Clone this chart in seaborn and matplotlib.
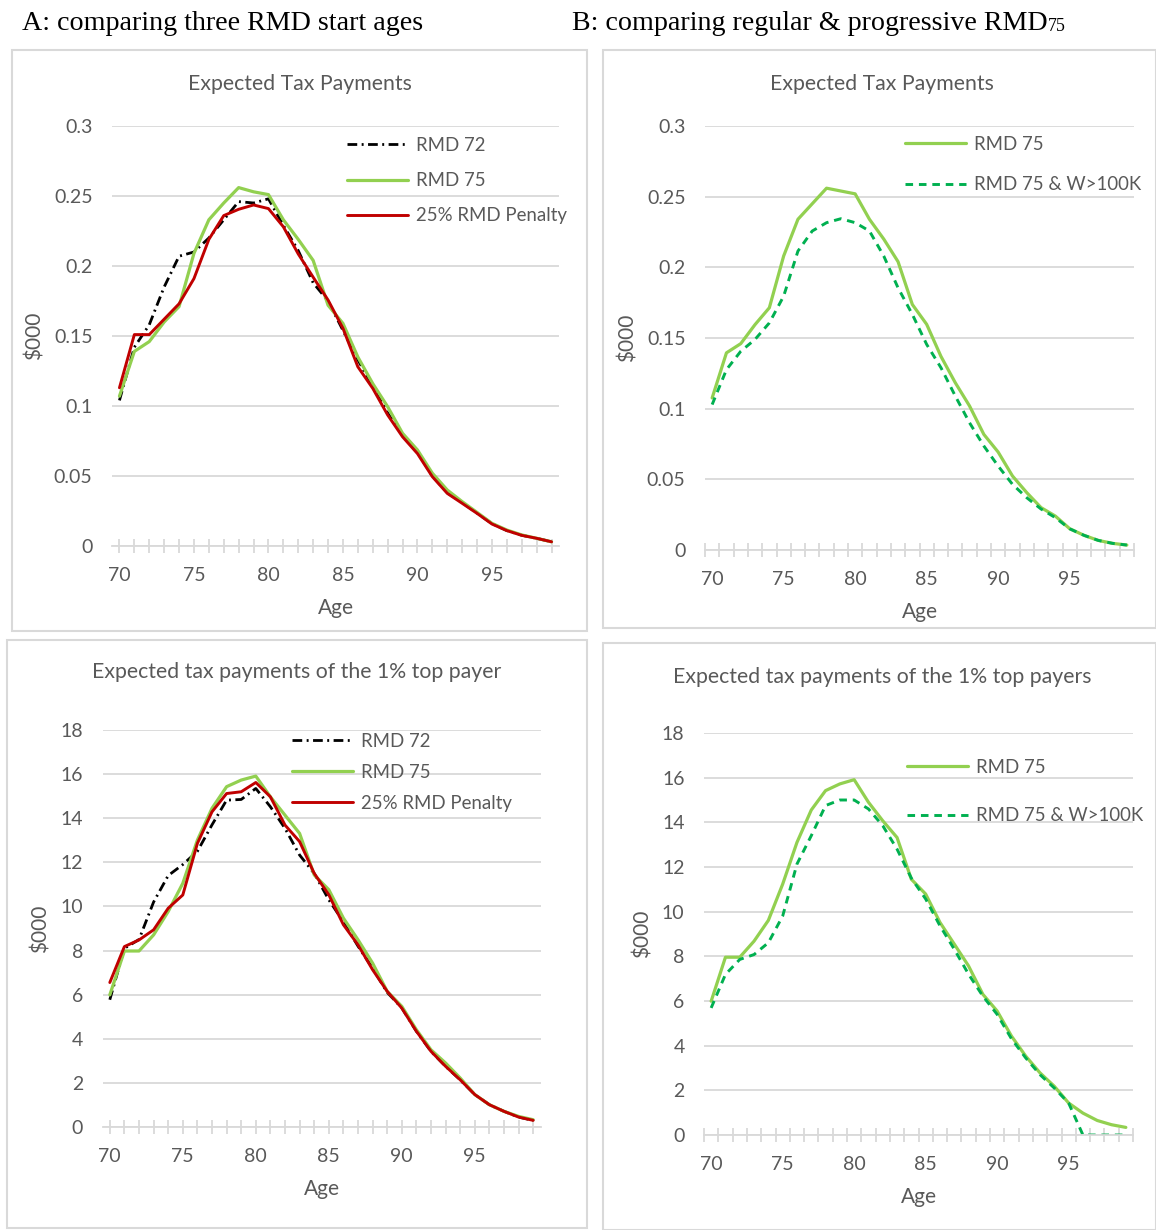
import numpy as np
import pandas as pd
import seaborn as sns
import matplotlib.pyplot as plt
from matplotlib.patches import Rectangle

sns.set_theme(style="white")
plt.rcParams["font.family"] = ["Lato", "DejaVu Sans"]

W, H, DPI = 1156, 1230, 100
GRID = "#D9D9D9"
TXT = "#595959"
GREEN = "#92D050"
DKGREEN = "#00B050"
RED = "#C00000"

ages = list(range(70, 100))
age_ticks = [70, 75, 80, 85, 90, 95]
age_labels = ["70", "75", "80", "85", "90", "95"]

# A, top: expected tax payments ($000)
a_top_rmd72 = [0.104, 0.142, 0.158, 0.185, 0.207, 0.210, 0.220, 0.233, 0.246, 0.245,
               0.248, 0.229, 0.211, 0.188, 0.175, 0.154, 0.133, 0.114, 0.095, 0.079,
               0.067, 0.050, 0.038, 0.031, 0.0235, 0.016, 0.011, 0.0077, 0.0055, 0.003]
a_top_rmd75 = [0.107, 0.139, 0.146, 0.160, 0.171, 0.209, 0.233, 0.245, 0.256, 0.253,
               0.251, 0.233, 0.219, 0.204, 0.172, 0.159, 0.135, 0.116, 0.0995, 0.0805,
               0.0686, 0.052, 0.040, 0.0317, 0.024, 0.0162, 0.0114, 0.0079, 0.0055, 0.003]
a_top_penalty = [0.113, 0.151, 0.151, 0.162, 0.173, 0.191, 0.219, 0.236, 0.2405, 0.2436,
                 0.241, 0.228, 0.2086, 0.192, 0.1757, 0.1555, 0.128, 0.1126, 0.0936, 0.078,
                 0.066, 0.0495, 0.0376, 0.0305, 0.0233, 0.0157, 0.011, 0.0076, 0.0055, 0.003]

# B, top
b_top_rmd75 = [0.1076, 0.1395, 0.146, 0.1595, 0.1714, 0.208, 0.234, 0.245, 0.256, 0.254,
               0.252, 0.234, 0.220, 0.204, 0.1737, 0.1597, 0.137, 0.1184, 0.1019, 0.0818,
               0.0693, 0.0524, 0.0406, 0.030, 0.024, 0.0151, 0.0104, 0.0068, 0.0047, 0.0035]
b_top_w100k = [0.1029, 0.1276, 0.1406, 0.149, 0.1607, 0.1796, 0.2115, 0.2257, 0.2316, 0.2344,
               0.2316, 0.2257, 0.208, 0.1855, 0.1667, 0.1455, 0.129, 0.109, 0.090, 0.0736,
               0.0594, 0.0465, 0.037, 0.029, 0.0229, 0.015, 0.0104, 0.0068, 0.0047, 0.0035]

# A, bottom: 1% top payers
a_bot_rmd72 = [5.77, 8.1, 8.5, 10.2, 11.4, 11.9, 12.5, 13.7, 14.82, 14.85,
               15.35, 14.52, 13.54, 12.33, 11.5, 10.3, 9.3, 8.2, 7.2, 6.1,
               5.4, 4.34, 3.43, 2.75, 2.14, 1.47, 1.01, 0.71, 0.45, 0.3]
a_bot_rmd75 = [5.99, 7.98, 7.98, 8.71, 9.77, 11.05, 13.01, 14.45, 15.43, 15.73,
               15.91, 14.97, 14.14, 13.31, 11.43, 10.76, 9.47, 8.49, 7.43, 6.15,
               5.47, 4.41, 3.5, 2.9, 2.22, 1.47, 1.01, 0.71, 0.48, 0.33]
a_bot_penalty = [6.55, 8.18, 8.48, 8.94, 9.92, 10.52, 12.86, 14.29, 15.12, 15.2,
                 15.62, 14.97, 13.69, 12.94, 11.5, 10.53, 9.17, 8.26, 7.13, 6.15,
                 5.39, 4.34, 3.43, 2.75, 2.14, 1.47, 1.01, 0.71, 0.45, 0.3]

# B, bottom
b_bot_rmd75 = [5.99, 7.96, 7.96, 8.68, 9.61, 11.23, 13.1, 14.55, 15.42, 15.72,
               15.91, 14.9, 14.07, 13.32, 11.45, 10.79, 9.52, 8.55, 7.57, 6.3,
               5.55, 4.43, 3.53, 2.78, 2.18, 1.43, 0.98, 0.65, 0.46, 0.34]
b_bot_w100k = [5.69, 7.19, 7.86, 8.08, 8.61, 9.8, 12.13, 13.4, 14.75, 15.0,
               15.0, 14.6, 13.85, 12.8, 11.5, 10.57, 9.37, 8.32, 7.2, 6.22,
               5.4, 4.31, 3.45, 2.7, 2.1, 1.43, 0, 0, 0, 0]

top_yticks = [0, 0.05, 0.1, 0.15, 0.2, 0.25, 0.3]
top_ylabels = ["0", "0.05", "0.1", "0.15", "0.2", "0.25", "0.3"]
bot_yticks = [0, 2, 4, 6, 8, 10, 12, 14, 16, 18]
bot_ylabels = ["0", "2", "4", "6", "8", "10", "12", "14", "16", "18"]

fig = plt.figure(figsize=(W / DPI, H / DPI), dpi=DPI)


def px_axes(left, top, right, bottom):
    return fig.add_axes([left / W, 1 - bottom / H, (right - left) / W, (bottom - top) / H])


def box(x0, y0, x1, y1):
    fig.patches.append(Rectangle((x0 / W, 1 - y1 / H), (x1 - x0) / W, (y1 - y0) / H,
                                 transform=fig.transFigure, fill=False, ec=GRID, lw=1.5))


def ftext(x, y, s, **kw):
    return fig.text(x / W, 1 - y / H, s, **kw)


def style(ax, yticks, ylabels, ymax, between):
    ax.set_xlim(69.5, 99.5)
    ax.set_ylim(0, ymax)
    for s in ["top", "right", "left"]:
        ax.spines[s].set_visible(False)
    ax.spines["bottom"].set_color(GRID)
    ax.spines["bottom"].set_linewidth(1.3)
    ax.set_yticks(yticks)
    ax.set_yticklabels(ylabels)
    ax.yaxis.grid(True, color=GRID, lw=1.3)
    ax.set_axisbelow(True)
    ax.tick_params(axis="y", length=0, pad=14, labelsize=14, labelcolor=TXT)
    ax.set_xticks(age_ticks)
    ax.set_xticklabels(age_labels)
    # excel style cross ticks, on the ages (A) or between them (B)
    minor = [a + 0.5 for a in range(69, 100)] if between else ages
    ax.xaxis.remove_overlapping_locs = False
    ax.set_xticks(minor, minor=True)
    ax.tick_params(axis="x", which="major", length=0, pad=15, labelsize=14, labelcolor=TXT)
    ax.tick_params(axis="x", which="minor", direction="inout", length=10,
                   width=1.3, color=GRID, bottom=True)
    ax.set_xlabel("Age", fontsize=15, color=TXT, labelpad=10)
    ax.set_ylabel("$000", fontsize=15, color=TXT, labelpad=7)


dashdot = (0, (3.5, 1.6, 0.7, 1.6))
dashed = (0, (2.6, 2.0))

# ---- A top
ax1 = px_axes(112, 126, 559, 546)
sns.lineplot(x=ages, y=a_top_rmd72, ax=ax1, color="black", lw=2, linestyle=dashdot, label="RMD 72")
sns.lineplot(x=ages, y=a_top_rmd75, ax=ax1, color=GREEN, lw=2.3, label="RMD 75")
sns.lineplot(x=ages, y=a_top_penalty, ax=ax1, color=RED, lw=2.1, label="25% RMD Penalty")
style(ax1, top_yticks, top_ylabels, 0.3, False)

# ---- B top
ax2 = px_axes(705, 126, 1134, 550)
sns.lineplot(x=ages, y=b_top_rmd75, ax=ax2, color=GREEN, lw=2.3, label="RMD 75")
sns.lineplot(x=ages, y=b_top_w100k, ax=ax2, color=DKGREEN, lw=2.1, linestyle=dashed, label="RMD 75 & W>100K")
style(ax2, top_yticks, top_ylabels, 0.3, True)

# ---- A bottom
ax3 = px_axes(102.5, 730, 540.5, 1127)
sns.lineplot(x=ages, y=a_bot_rmd72, ax=ax3, color="black", lw=2, linestyle=dashdot, label="RMD 72")
sns.lineplot(x=ages, y=a_bot_rmd75, ax=ax3, color=GREEN, lw=2.3, label="RMD 75")
sns.lineplot(x=ages, y=a_bot_penalty, ax=ax3, color=RED, lw=2.1, label="25% RMD Penalty")
style(ax3, bot_yticks, bot_ylabels, 18, False)

# ---- B bottom
ax4 = px_axes(704, 733, 1133, 1135)
sns.lineplot(x=ages, y=b_bot_rmd75, ax=ax4, color=GREEN, lw=2.3, label="RMD 75")
sns.lineplot(x=ages, y=b_bot_w100k, ax=ax4, color=DKGREEN, lw=2.1, linestyle=dashed, label="RMD 75 & W>100K")
style(ax4, bot_yticks, bot_ylabels, 18, True)

for ax, (lx, ly), sp in [(ax1, (347, 137), 0.97), (ax2, (905, 136), 1.24),
                         (ax3, (292, 733), 0.74), (ax4, (907, 759), 1.67)]:
    ax.legend(loc="upper left", bbox_to_anchor=(lx / W, 1 - ly / H),
              bbox_transform=fig.transFigure, frameon=False, fontsize=13.4,
              labelcolor=TXT, handlelength=3.3, handletextpad=0.4,
              borderpad=0, borderaxespad=0, labelspacing=sp)

# panel frames and titles
box(12, 50, 587, 631)
box(603, 50, 1156, 628)
box(7, 640, 587, 1228)
box(603, 643, 1156, 1230)

ftext(300, 84, "Expected Tax Payments", fontsize=15.3, color=TXT, ha="center", va="center")
ftext(882, 84, "Expected Tax Payments", fontsize=15.3, color=TXT, ha="center", va="center")
ftext(297, 672, "Expected tax payments of the 1% top payer", fontsize=15.3, color=TXT, ha="center", va="center")
ftext(882, 677, "Expected tax payments of the 1% top payers", fontsize=15.3, color=TXT, ha="center", va="center")

serif = ["Liberation Serif", "DejaVu Serif"]
ftext(22, 23, "A: comparing three RMD start ages", fontsize=20.2, family=serif, color="black", va="center")
tb = ftext(572, 23, "B: comparing regular & progressive RMD", fontsize=20.2, family=serif, color="black", va="center")
renderer = fig.canvas.get_renderer()
ext = tb.get_window_extent(renderer)
fig.text(ext.x1 / W, 1 - 31 / H, "75", fontsize=13, family=serif, color="black", va="baseline")

fig.savefig("out.png", dpi=DPI)
